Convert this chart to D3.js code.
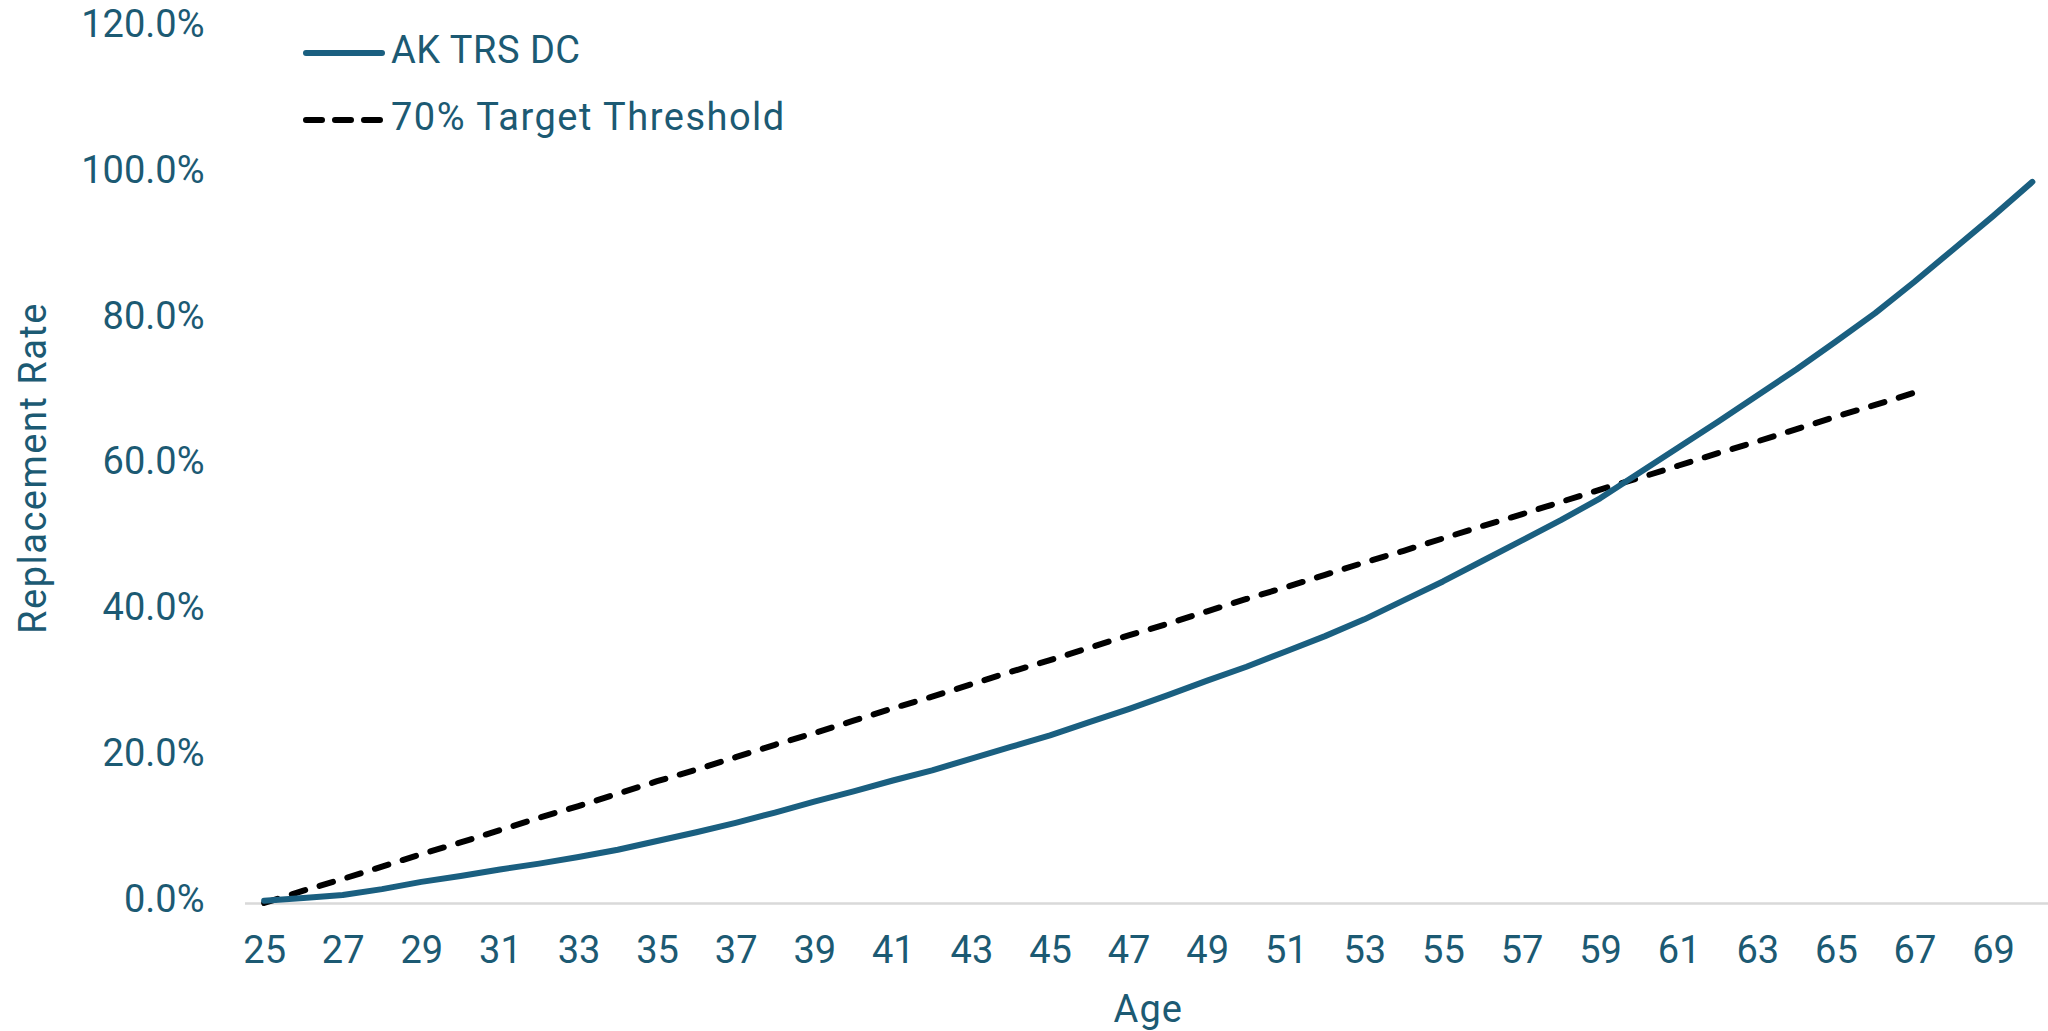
<!DOCTYPE html>
<html>
<head>
<meta charset="utf-8">
<script src="https://cdn.jsdelivr.net/npm/d3@7"></script>
<style>
  body { margin: 0; background: #fff; overflow: hidden; }
  text { font-family: Roboto, "Liberation Sans", sans-serif; fill: #1c5a73; }
  .axis .domain { stroke: #d9d9d9; stroke-width: 2.5; }
  .axis text { font-size: 38px; }
</style>
</head>
<body>
<div id="drawingArea"></div>
<script>
// data (replacement rate in %)
var ages = [25, 26, 27, 28, 29, 30, 31, 32, 33, 34, 35, 36, 37, 38, 39, 40, 41, 42, 43, 44, 45, 46, 47,
            48, 49, 50, 51, 52, 53, 54, 55, 56, 57, 58, 59, 60, 61, 62, 63, 64, 65, 66, 67, 68, 69, 70];
var akTrsDc = [0.3, 0.7, 1.1, 1.9, 2.9, 3.7, 4.6, 5.4, 6.3, 7.3, 8.5, 9.7, 11.0, 12.4, 13.9, 15.3, 16.8, 18.2,
               19.8, 21.4, 23.0, 24.8, 26.6, 28.5, 30.5, 32.4, 34.5, 36.6, 38.9, 41.5, 44.1, 46.9, 49.7, 52.5,
               55.5, 59.0, 62.5, 66.0, 69.6, 73.2, 77.0, 80.9, 85.2, 89.7, 94.2, 98.9];
var targetAges = [25, 26, 27, 28, 29, 30, 31, 32, 33, 34, 35, 36, 37, 38, 39, 40, 41, 42, 43, 44, 45, 46,
                  47, 48, 49, 50, 51, 52, 53, 54, 55, 56, 57, 58, 59, 60, 61, 62, 63, 64, 65, 66, 67];
var target = [0, 1.7, 3.3, 5.0, 6.7, 8.3, 10.0, 11.7, 13.3, 15.0, 16.7, 18.3, 20.0, 21.7, 23.3, 25.0, 26.7,
              28.3, 30.0, 31.7, 33.3, 35.0, 36.7, 38.3, 40.0, 41.7, 43.3, 45.0, 46.7, 48.3, 50.0, 51.7, 53.3,
              55.0, 56.7, 58.3, 60.0, 61.7, 63.3, 65.0, 66.7, 68.3, 70.0];
var xTickLabels = [25, 27, 29, 31, 33, 35, 37, 39, 41, 43, 45, 47, 49, 51, 53, 55, 57, 59, 61, 63, 65, 67, 69];
var yTicks = [0, 20, 40, 60, 80, 100, 120];
var seriesNames = ["AK TRS DC", "70% Target Threshold"];

var blue = "#1a5f80";

// set the dimensions and margins of the graph
var margin = {top: 28, right: -4, bottom: 128, left: 244.5},
    width = 2048 - margin.left - margin.right,
    height = 1031 - margin.top - margin.bottom;

// set the ranges
var x = d3.scalePoint()
    .domain(ages)
    .range([0, width])
    .padding(0.5);

var y = d3.scaleLinear()
    .domain([0, 120])
    .range([height, 0]);

var valueline = d3.line()
    .x(function(d) { return x(d[0]); })
    .y(function(d) { return y(d[1]); });

var svg = d3.select("#drawingArea").append("svg")
    .attr("width", 2048)
    .attr("height", 1031);

var g = svg.append("g")
    .attr("transform", "translate(" + margin.left + "," + margin.top + ")");

// Add the X Axis (only the baseline and every second label)
g.append("g")
    .attr("class", "axis")
    .attr("transform", "translate(0," + height + ")")
    .call(d3.axisBottom(x)
        .tickValues(xTickLabels)
        .tickSize(0)
        .tickSizeOuter(0)
        .tickPadding(33))
    .call(function(a) { a.selectAll("text").attr("fill", "#1c5a73"); });

// Add the Y Axis
g.append("g")
    .attr("class", "axis")
    .call(d3.axisLeft(y)
        .tickValues(yTicks)
        .tickSize(0)
        .tickPadding(40)
        .tickFormat(function(d) { return d.toFixed(1) + "%"; }))
    .call(function(a) {
        a.select(".domain").remove();
        a.selectAll("text").attr("dy", "0.22em").attr("fill", "#1c5a73");
    });

// target threshold (dashed)
g.append("path")
    .datum(d3.zip(targetAges, target))
    .attr("fill", "none")
    .attr("stroke", "#000")
    .attr("stroke-width", 6)
    .attr("stroke-linecap", "round")
    .attr("stroke-dasharray", "14,15")
    .attr("d", valueline);

// AK TRS DC line
g.append("path")
    .datum(d3.zip(ages, akTrsDc))
    .attr("fill", "none")
    .attr("stroke", blue)
    .attr("stroke-width", 6)
    .attr("stroke-linecap", "round")
    .attr("stroke-linejoin", "round")
    .attr("d", valueline);

// text label for the x axis
svg.append("text")
    .attr("x", margin.left + width / 2)
    .attr("y", 1022)
    .attr("text-anchor", "middle")
    .style("font-size", "38px")
    .style("letter-spacing", "1px")
    .text("Age");

// text label for the y axis
svg.append("text")
    .attr("transform", "translate(46," + 468 + ") rotate(-90)")
    .attr("text-anchor", "middle")
    .style("font-size", "38px")
    .style("letter-spacing", "1.5px")
    .text("Replacement Rate");

// legend
var legend = svg.append("g");
var legendY = [53, 120];

legend.append("line")
    .attr("x1", 306).attr("x2", 382)
    .attr("y1", legendY[0]).attr("y2", legendY[0])
    .attr("stroke", blue)
    .attr("stroke-width", 6)
    .attr("stroke-linecap", "round");

legend.append("line")
    .attr("x1", 306).attr("x2", 382)
    .attr("y1", legendY[1]).attr("y2", legendY[1])
    .attr("stroke", "#000")
    .attr("stroke-width", 6)
    .attr("stroke-linecap", "round")
    .attr("stroke-dasharray", "16,13");

legend.selectAll("text.leg")
    .data(seriesNames)
    .enter().append("text")
    .attr("class", "leg")
    .attr("x", 391)
    .attr("y", function(d, i) { return legendY[i] + 10; })
    .style("font-size", "38px")
    .style("letter-spacing", function(d, i) { return i === 0 ? "0.5px" : "1.5px"; })
    .text(function(d) { return d; });
</script>
</body>
</html>
